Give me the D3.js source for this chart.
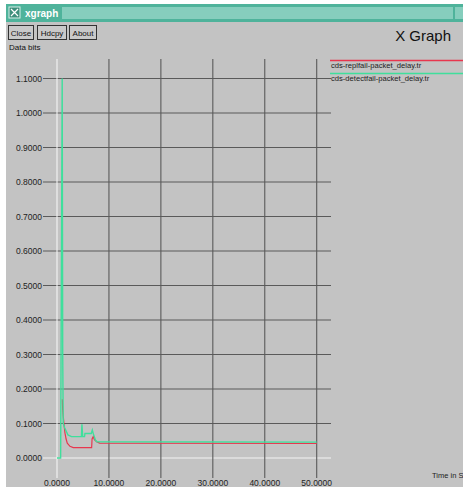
<!DOCTYPE html>
<html>
<head>
<meta charset="utf-8">
<script src="https://cdn.jsdelivr.net/npm/d3@7"></script>
<style>
  html, body { margin: 0; padding: 0; background: #ffffff; overflow: hidden; }
  svg { display: block; }
  text { font-family: "Liberation Sans", Arial, sans-serif; }
</style>
</head>
<body>
<svg id="chart" width="463" height="487"></svg>
<script>
// ---- data ----
const xTicks = [0, 10, 20, 30, 40, 50];
const yTicks = [0, 0.1, 0.2, 0.3, 0.4, 0.5, 0.6, 0.7, 0.8, 0.9, 1.0, 1.1];
const seriesNames = ["cds-replfail-packet_delay.tr", "cds-detectfail-packet_delay.tr"];
const seriesColors = ["#e8364e", "#3fdf9c"];

const replfailX = [1.02, 1.1, 1.21, 1.4, 1.54, 1.75, 1.98, 2.5, 3.13, 6.67, 6.75, 6.98, 7.2, 7.63, 8.2, 50];
const replfailY = [0.17, 0.14, 0.12, 0.09, 0.072, 0.055, 0.043, 0.034, 0.030, 0.030, 0.055, 0.062, 0.053, 0.047, 0.043, 0.042];

const detectfailX = [0, 0.7, 1.0, 1.1, 1.2, 1.5, 2.1, 2.8, 4.7, 4.8, 4.95, 5.3, 5.38, 6.6, 6.8, 7.0, 7.4, 7.7, 50];
const detectfailY = [0, 0, 1.1, 0.3, 0.1, 0.087, 0.067, 0.062, 0.062, 0.098, 0.062, 0.062, 0.071, 0.071, 0.081, 0.07, 0.052, 0.047, 0.046];

// ---- drawing ----
const svg = d3.select("#chart");
const W = 463, H = 487;

// window background
svg.append("rect").attr("x", 6).attr("y", 4).attr("width", W - 6).attr("height", H - 4).attr("fill", "#c3c3c3");

// title bar
svg.append("rect").attr("x", 6).attr("y", 4).attr("width", W - 6).attr("height", 18).attr("fill", "#4fb39b");
svg.append("rect").attr("x", 62).attr("y", 7).attr("width", 391).attr("height", 12).attr("fill", "#86cebd");
svg.append("rect").attr("x", 455).attr("y", 7).attr("width", 8).attr("height", 12).attr("fill", "#86cebd");
// icon
svg.append("rect").attr("x", 9).attr("y", 7).attr("width", 11).attr("height", 11).attr("fill", "#3e8f7c").attr("stroke", "#d8f0ea").attr("stroke-width", 1);
svg.append("path").attr("d", "M11,9 L18,16 M18,9 L11,16").attr("stroke", "#ffffff").attr("stroke-width", 1.2);
svg.append("text").attr("x", 25).attr("y", 17).attr("fill", "#ffffff").attr("font-size", 10).attr("font-weight", "bold").text("xgraph");

// buttons
const buttons = [{t: "Close", x: 8, w: 25}, {t: "Hdcpy", x: 37, w: 29}, {t: "About", x: 69, w: 27}];
buttons.forEach(b => {
  svg.append("rect").attr("x", b.x + 0.5).attr("y", 25.5).attr("width", b.w).attr("height", 14)
    .attr("fill", "#c9c9c9").attr("stroke", "#333").attr("stroke-width", 1);
  svg.append("text").attr("x", b.x + b.w / 2 + 0.5).attr("y", 35.5).attr("text-anchor", "middle")
    .attr("font-size", 8).attr("fill", "#111").text(b.t);
});
svg.append("text").attr("x", 9).attr("y", 50).attr("font-size", 8).attr("fill", "#111").text("Data bits");
svg.append("text").attr("x", 451).attr("y", 41).attr("text-anchor", "end").attr("font-size", 15).attr("fill", "#111").text("X Graph");

// scales
const x = d3.scaleLinear().domain([0, 50]).range([57, 316.7]);
const y = d3.scaleLinear().domain([0, 1.1]).range([458, 78.5]);
const fmt = d3.format(".4f");

const gridLeft = 43, gridRight = 331, gridTop = 59, gridBottom = 478;

// horizontal grid
const g = svg.append("g");
g.selectAll("line.h").data(yTicks).join("line")
  .attr("x1", gridLeft).attr("x2", gridRight)
  .attr("y1", d => y(d)).attr("y2", d => y(d))
  .attr("stroke", d => d === 0 ? "#f4f4f4" : "#5a5a5a").attr("stroke-width", 1.1);
g.selectAll("text.yl").data(yTicks).join("text")
  .attr("x", gridLeft - 1).attr("y", d => y(d) + 3)
  .attr("text-anchor", "end").attr("font-size", 8.5).attr("fill", "#222").text(d => fmt(d));

// vertical grid
g.selectAll("line.v").data(xTicks).join("line")
  .attr("x1", d => x(d)).attr("x2", d => x(d))
  .attr("y1", gridTop).attr("y2", gridBottom)
  .attr("stroke", d => d === 0 ? "#f4f4f4" : "#5a5a5a").attr("stroke-width", 1.1);
g.selectAll("text.xl").data(xTicks).join("text")
  .attr("x", d => x(d)).attr("y", 486)
  .attr("text-anchor", "middle").attr("font-size", 8.5).attr("fill", "#222").text(d => fmt(d));

svg.append("text").attr("x", 432).attr("y", 478).attr("font-size", 7.5).attr("fill", "#222").text("Time in S");

// series
const line = d3.line().x(d => x(d[0])).y(d => y(d[1]));
const red = replfailX.map((v, i) => [v, replfailY[i]]);
const green = detectfailX.map((v, i) => [v, detectfailY[i]]);
svg.append("path").datum(red).attr("d", line).attr("fill", "none").attr("stroke", seriesColors[0]).attr("stroke-width", 1.2);
svg.append("path").datum(green).attr("d", line).attr("fill", "none").attr("stroke", seriesColors[1]).attr("stroke-width", 1.4);

// legend
const legendY = [60.5, 73.5];
seriesNames.forEach((n, i) => {
  svg.append("line").attr("x1", 330).attr("x2", W).attr("y1", legendY[i]).attr("y2", legendY[i])
    .attr("stroke", seriesColors[i]).attr("stroke-width", 1.3);
  svg.append("text").attr("x", 331).attr("y", legendY[i] + 7).attr("font-size", 7.6).attr("fill", "#222").text(n);
});
</script>
</body>
</html>
